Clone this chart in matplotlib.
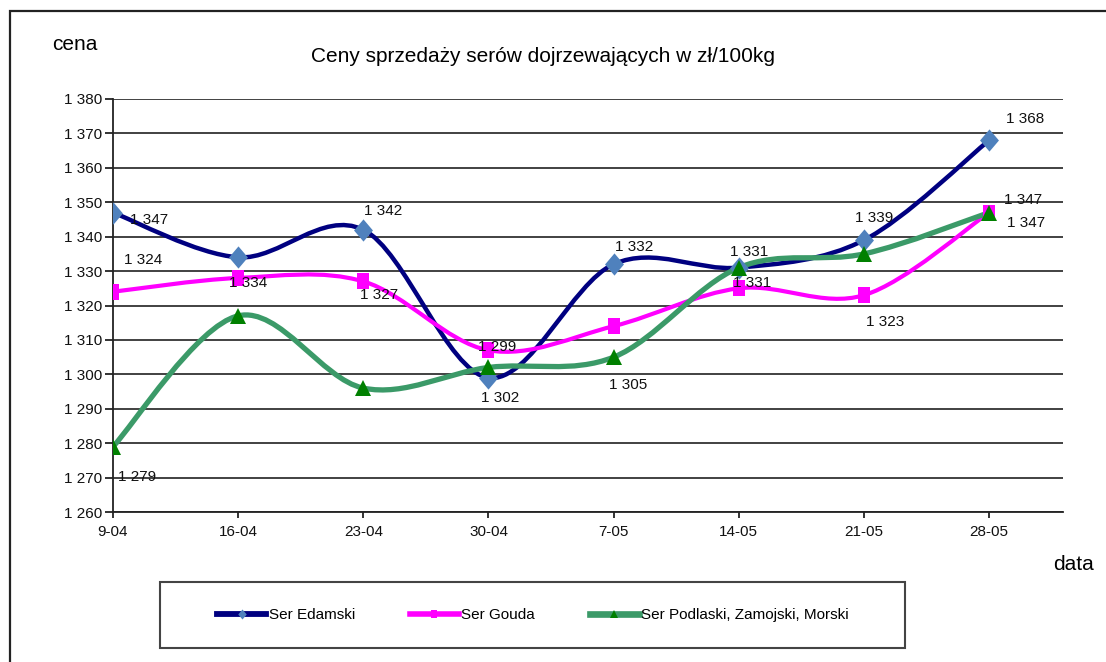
import matplotlib
matplotlib.use("Agg")
import matplotlib.pyplot as plt
import numpy as np
from matplotlib import font_manager
from matplotlib.path import Path
from matplotlib.patches import PathPatch, Rectangle
from matplotlib.lines import Line2D
from matplotlib.ticker import FuncFormatter

# dane z wykresu (zł/100kg)
daty = ['9-04', '16-04', '23-04', '30-04', '7-05', '14-05', '21-05', '28-05']
edamski = [1347, 1334, 1342, 1299, 1332, 1331, 1339, 1368]
gouda = [1324, 1328, 1327, 1307, 1314, 1325, 1323, 1347]
podlaski = [1279, 1317, 1296, 1302, 1305, 1331, 1335, 1347]

nazwy = ['Ser Edamski', 'Ser Gouda', 'Ser Podlaski, Zamojski, Morski']
y_ticks = list(range(1260, 1381, 10))

# podpisy wartości: (seria, indeks, przesunięcie w pikselach)
podpisy = [
    (0, 0, (17, -7)), (1, 0, (11, 32)), (0, 1, (-9, -26)), (0, 2, (1, 19)),
    (1, 2, (-3, -14)), (0, 3, (-10, 31)), (2, 3, (-7, -31)), (2, 0, (5, -30)),
    (0, 4, (1, 17)), (2, 4, (-5, -28)), (0, 5, (-9, 16)), (2, 5, (-6, -15)),
    (0, 6, (-9, 22)), (1, 6, (2, -27)), (0, 7, (17, 21)), (2, 7, (15, 13)),
    (1, 7, (18, -10)),
]

names = {f.name for f in font_manager.fontManager.ttflist}
if 'Liberation Sans Narrow' in names:
    plt.rcParams['font.family'] = ['Liberation Sans Narrow', 'DejaVu Sans']
    fs = 13
else:
    plt.rcParams['font.family'] = ['Liberation Sans', 'DejaVu Sans']
    fs = 11


def smooth_path(xs, ys):
    # gładka linia jak w Excelu (Catmull-Rom jako krzywe Beziera)
    pts = np.column_stack([xs, ys]).astype(float)
    ext = np.vstack([pts[0], pts, pts[-1]])
    verts = [pts[0]]
    codes = [Path.MOVETO]
    for i in range(len(pts) - 1):
        p0, p1, p2, p3 = ext[i], ext[i + 1], ext[i + 2], ext[i + 3]
        verts += [p1 + (p2 - p0) / 6, p2 - (p3 - p1) / 6, p2]
        codes += [Path.CURVE4] * 3
    return Path(verts, codes)


W, H = 1106, 662
fig = plt.figure(figsize=(W / 100, H / 100), dpi=100)
fig.patches.append(Rectangle((10 / W, -0.1), 2, 1 - 11 / H + 0.1, transform=fig.transFigure,
                             fill=False, edgecolor='#222222', linewidth=1.6))

ax = fig.add_axes([113 / W, 150 / H, 950 / W, 413 / H])
x = np.arange(len(daty))

diament = [(-0.85, 0), (0, 1), (0.85, 0), (0, -1)]
kwadrat = [(-0.75, -1), (0.75, -1), (0.75, 1), (-0.75, 1)]
style = [
    dict(lc='#000080', lw=3.2, marker=diament, ms=16, mc='#4F81BD'),
    dict(lc='#FF00FF', lw=3.0, marker=kwadrat, ms=12, mc='#FF00FF'),
    dict(lc='#3B9A68', lw=3.8, marker='^', ms=12, mc='#008000'),
]
serie = [edamski, gouda, podlaski]

for s, st in zip(serie, style):
    ax.add_patch(PathPatch(smooth_path(x, s), fill=False, edgecolor=st['lc'],
                           linewidth=st['lw'], capstyle='round', joinstyle='round', zorder=3))
for s, st in zip(serie, style):
    ax.plot(x, s, linestyle='none', marker=st['marker'], markersize=st['ms'],
            color=st['mc'], markeredgewidth=0, zorder=4)

for si, i, (dx, dy) in podpisy:
    v = serie[si][i]
    ax.annotate(f"{v:,}".replace(',', ' '), (x[i], v), xytext=(dx, dy),
                textcoords='offset pixels', ha='left', va='center',
                fontsize=fs, color='#111111', zorder=5)

ax.set_xlim(0, 7.59)
ax.set_ylim(1260, 1380)
ax.set_yticks(y_ticks)
ax.yaxis.set_major_formatter(FuncFormatter(lambda v, p: f"{int(v):,}".replace(',', ' ')))
ax.set_xticks(x)
ax.set_xticklabels(daty)
ax.grid(axis='y', color='#333333', linewidth=1.3)
ax.set_axisbelow(True)
for sp in ['top', 'right']:
    ax.spines[sp].set_visible(False)
ax.spines['left'].set_color('#222222')
ax.spines['bottom'].set_color('#222222')
ax.spines['left'].set_linewidth(1.3)
ax.spines['bottom'].set_linewidth(1.3)
ax.tick_params(axis='y', length=6, width=1.2, pad=2, labelsize=fs, colors='#111111')
ax.tick_params(axis='x', length=4.5, width=1.2, pad=5, labelsize=fs, colors='#111111')

fig.text(543 / W, 1 - 57 / H, 'Ceny sprzedaży serów dojrzewających w zł/100kg',
         ha='center', va='center', fontsize=fs + 4)
fig.text(52 / W, 1 - 45 / H, 'cena', ha='left', va='center', fontsize=fs + 4)
fig.text(1053 / W, 1 - 564 / H, 'data', ha='left', va='center', fontsize=fs + 4)

# legenda
fig.patches.append(Rectangle((160 / W, 1 - 648 / H), 745 / W, 66 / H, transform=fig.transFigure,
                             fill=False, edgecolor='#444444', linewidth=1.5))
uchwyty = [Line2D([], [], color=st['lc'], linewidth=st['lw'] + 1, marker=st['marker'],
                  markersize=st['ms'] * 0.45, markerfacecolor=st['mc'], markeredgewidth=0)
           for st in style]
fig.legend(uchwyty, nazwy, loc='center', bbox_to_anchor=(533 / W, 1 - 615 / H), ncol=3,
           frameon=False, fontsize=fs, handlelength=3.2, handletextpad=0.15,
           columnspacing=3.6)

fig.savefig('out.png', dpi=100)
